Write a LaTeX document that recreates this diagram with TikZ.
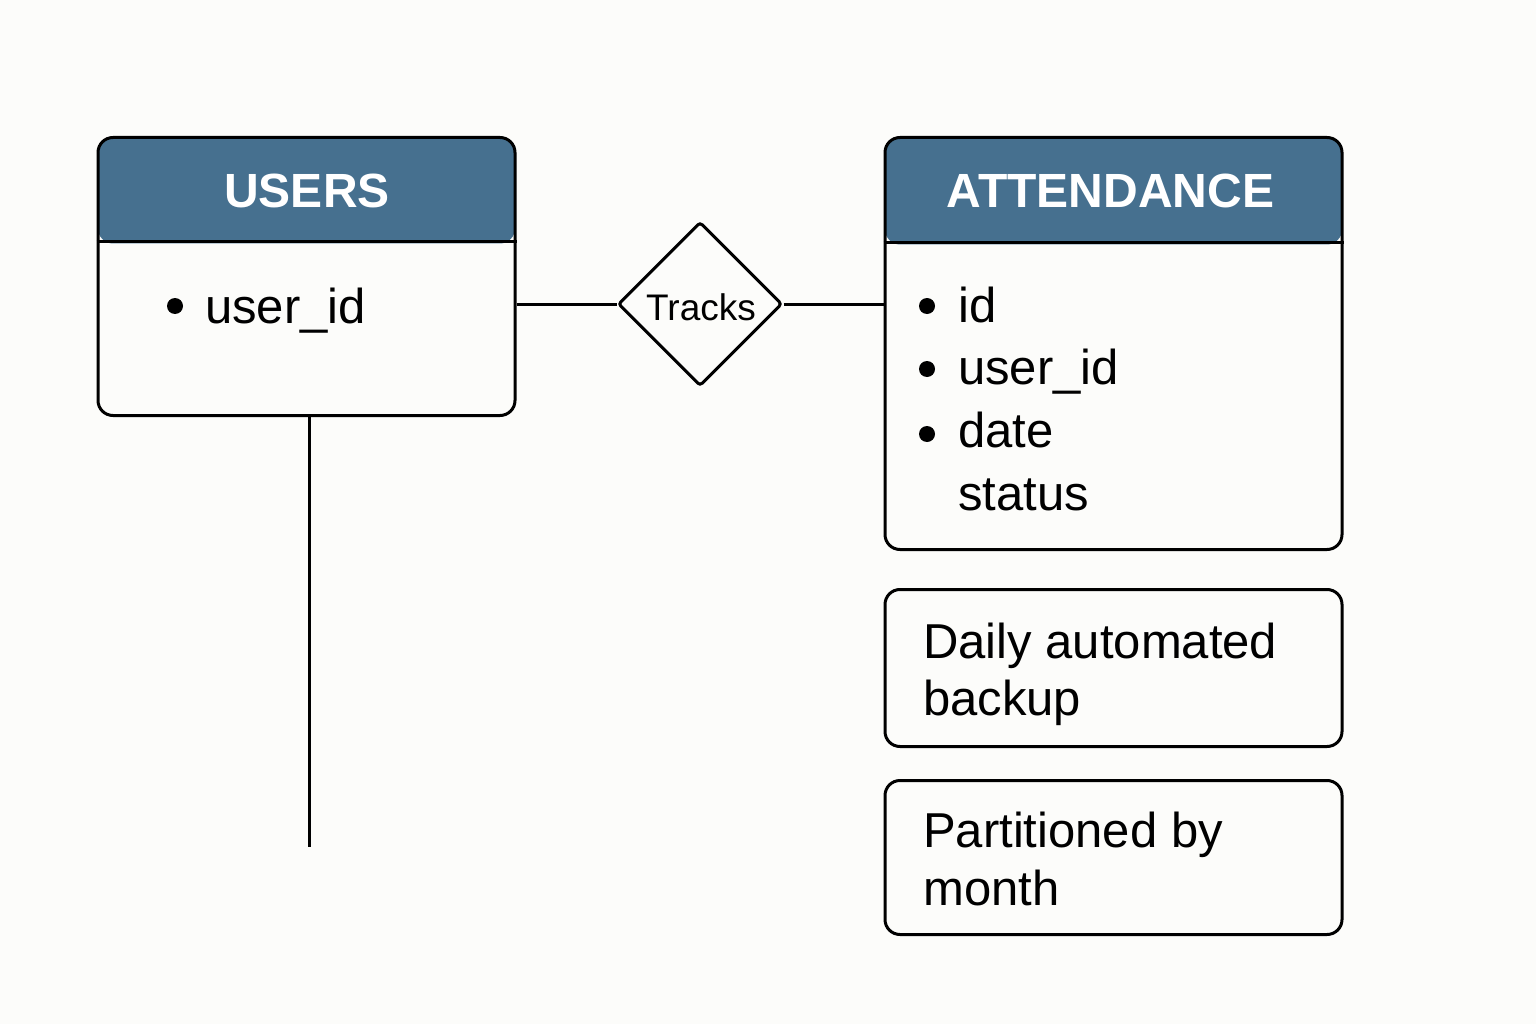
\documentclass[tikz,border=0pt]{standalone}
\usepackage{fontspec}
\setmainfont{Liberation Sans}
\usetikzlibrary{shapes.geometric}
\definecolor{hdrblue}{HTML}{46708F}
\definecolor{bgcol}{HTML}{FCFCFA}
\tikzset{
  box/.style={draw=black, line width=3pt, rounded corners=15pt, inner sep=0pt, anchor=north west},
  hdrtext/.style={text=white, font=\fontsize{48}{56}\selectfont\bfseries, inner sep=0pt},
  bodytext/.style={text=black, font=\fontsize{49}{58}\selectfont, inner sep=0pt, anchor=base west},
  bulletdot/.style={circle, fill=black, minimum size=16pt, inner sep=0pt},
  rel/.style={draw=black, line width=3pt, shape=diamond, rounded corners=3pt, minimum width=164pt, minimum height=164pt, inner sep=0pt},
  reltext/.style={font=\fontsize{37}{42}\selectfont, inner sep=0pt, anchor=base},
  conn/.style={draw=black, line width=3pt}
}
\begin{document}
\begin{tikzpicture}[x=1pt,y=-1pt]
\fill[bgcol] (0,0) rectangle (1536,1024);
\useasboundingbox (0,0) rectangle (1536,1024);

% USERS entity
\node[box, minimum width=417pt, minimum height=278pt,
  path picture={\fill[hdrblue] (path picture bounding box.north west) rectangle ([yshift=-106pt]path picture bounding box.north east);}]
  (users) at (96.5,136) {};
\draw[conn] ([yshift=-106pt]users.north west) -- ([yshift=-106pt]users.north east);
\node[hdrtext] (usersh) at (307,190.5) {USERS};
\node[bulletdot] (ub1) at (175,306) {};
\node[bodytext] (uf1) at (205,323) {user\_id};

% ATTENDANCE entity
\node[box, minimum width=457pt, minimum height=412pt,
  path picture={\fill[hdrblue] (path picture bounding box.north west) rectangle ([yshift=-107pt]path picture bounding box.north east);}]
  (att) at (883.5,136) {};
\draw[conn] ([yshift=-107pt]att.north west) -- ([yshift=-107pt]att.north east);
\node[hdrtext] (atth) at (1110.5,190.5) {ATTENDANCE};
\node[bulletdot] (ab1) at (927,306) {};
\node[bulletdot] (ab2) at (927,369) {};
\node[bulletdot] (ab3) at (927,434) {};
\node[bodytext] (af1) at (958,322) {id};
\node[bodytext] (af2) at (958,384) {user\_id};
\node[bodytext] (af3) at (958,447) {date};
\node[bodytext] (af4) at (958,510) {status};

% Notes
\node[box, minimum width=457pt, minimum height=157pt] (daily) at (883.5,588) {};
\node[bodytext] (d1) at (923,658) {Daily automated};
\node[bodytext] (d2) at (923,715) {backup};
\node[box, minimum width=457pt, minimum height=154pt] (part) at (883.5,779) {};
\node[bodytext] (p1) at (923,847) {Partitioned by};
\node[bodytext] (p2) at (923,905) {month};

% Relationship
\node[rel] (tracks) at (700,304) {};
\node[reltext] (trackslabel) at (701,320) {Tracks};

% Connectors
\coordinate (usersend) at (309,847);
\draw[conn] (tracks.west -| users.east) -- (tracks.west);
\draw[conn] (tracks.east) -- (tracks.east -| att.west);
\draw[conn] (usersend |- users.south) -- (usersend);
\end{tikzpicture}
\end{document}
